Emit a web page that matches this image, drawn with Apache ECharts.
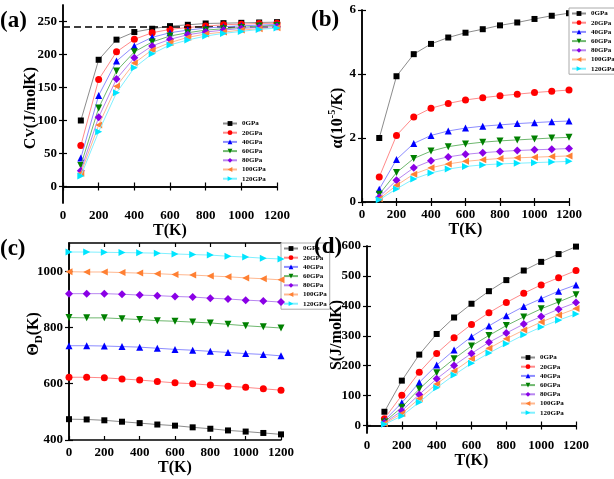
<!DOCTYPE html>
<html><head><meta charset="utf-8">
<script src="https://cdn.jsdelivr.net/npm/echarts@6/dist/echarts.min.js"></script>
<style>html,body{margin:0;padding:0;background:#fff}#c{width:614px;height:479px}</style>
</head><body><div id="c"></div>
<script>
const temps = [100,200,300,400,500,600,700,800,900,1000,1100,1200];
const tempsTheta = [0,100,200,300,400,500,600,700,800,900,1000,1100,1200];
const pressures = ['0GPa','20GPa','40GPa','60GPa','80GPa','100GPa','120GPa'];
const xTicks = [0,200,400,600,800,1000,1200];
const cvTicks = [0,50,100,150,200,250];
const alphaTicks = [0,2,4,6];
const thetaTicks = [400,600,800,1000];
const sTicks = [0,100,200,300,400,500,600];
const dulongPetit = 242;

const cv0   = [100,192,222.5,234,239,243,245,247,247.5,248,248.5,249];
const cv20  = [62,162,204,223,233,238,241,243,245,246,247,247.5];
const cv40  = [43,138,190,213,226,233,237,240,242,243.5,244.5,245.5];
const cv60  = [32,119,175,204,219,228,233,237,239,241,243,244];
const cv80  = [24,105,163,195,213,223,230,234,237,239.5,241,242.5];
const cv100 = [20,93,152,187,207,218,226,231,234,237,239,240.5];
const cv120 = [16,83,142,180,201,214.5,222,228,232,235,238,240];
const al0   = [2.0,3.93,4.62,4.94,5.14,5.29,5.40,5.52,5.61,5.72,5.82,5.90];
const al20  = [0.78,2.08,2.66,2.93,3.08,3.19,3.26,3.32,3.37,3.42,3.46,3.50];
const al40  = [0.40,1.33,1.83,2.08,2.22,2.31,2.37,2.41,2.45,2.48,2.51,2.53];
const al60  = [0.24,0.92,1.36,1.59,1.73,1.81,1.87,1.91,1.94,1.97,2.00,2.02];
const al80  = [0.15,0.68,1.07,1.29,1.41,1.49,1.54,1.58,1.61,1.63,1.65,1.67];
const al100 = [0.10,0.52,0.87,1.07,1.19,1.27,1.32,1.36,1.38,1.40,1.42,1.44];
const al120 = [0.07,0.41,0.72,0.91,1.03,1.11,1.16,1.19,1.21,1.23,1.25,1.27];
const th0   = [474,473,470,465,460,455,451,445,440,434,430,425,420];
const th20  = [623,623,621,617,613,608,603,600,595,591,587,582,577];
const th40  = [735,735,734,732,730,726,722,719,715,711,707,704,699];
const th60  = [835,834,834,831,828,824,822,819,816,811,806,802,798];
const th80  = [920,920,920,918,915,913,910,908,904,901,897,894,890];
const th100 = [998,997,997,995,993,991,988,986,983,980,976,973,969];
const th120 = [1068,1068,1067,1066,1065,1064,1061,1059,1057,1053,1050,1046,1043];
const s0   = [46,150,237,306,361,407,449,486,518,547,573,598];
const s20  = [23,101,178,241,293,338,377,411,442,470,494,518];
const s40  = [17,76,144,202,252,297,333,367,398,424,449,470];
const s60  = [12,61,122,176,223,266,301,334,363,390,413,437];
const s80  = [9,49,104,156,201,241,278,309,339,364,389,411];
const s100 = [7,40,90,139,182,223,258,290,319,346,369,391];
const s120 = [4,32,78,126,169,208,242,273,303,329,352,373];

const markerColors = ['#000000','#ff0000','#0000ff','#008000','#8a00e6','#ff8033','#00e5ff'];
const lineColors = ['#8c8c8c','#ff8a8a','#8c8cff','#6fb86f','#b886f0','#ffb890','#80f0ff'];
const symbols = ['rect','circle','triangle','triangle','diamond','triangle','triangle'];
const rotations = [0,0,0,180,0,90,-90];
const symSizes = [6,7,7,7,8,7,7];

const FONT = 'Liberation Serif, Times New Roman, serif';

const grids = [
  {left:63, top:5, width:214, height:198},
  {left:362, top:10, width:207, height:192},
  {left:69, top:243, width:212, height:197},
  {left:367, top:246, width:209, height:187}
];

const xAxes = [], yAxes = [];
function addAxes(gi, ymin, ymax, yticks) {
  const lineS = {show:true, lineStyle:{color:'#000', width:1.5}};
  xAxes.push({gridIndex:gi, type:'value', position:'bottom', min:0, max:1200,
    axisLine:lineS, splitLine:{show:false},
    axisTick:{inside:true, length:4, lineStyle:{width:1.2}, customValues:xTicks},
    axisLabel:{customValues:xTicks, formatter:v=>String(v), color:'#000', fontFamily:FONT, fontWeight:'bold', fontSize:13, margin:6},
    name:'T(K)', nameLocation:'middle', nameGap:17,
    nameTextStyle:{color:'#000', fontFamily:FONT, fontWeight:'bold', fontSize:16}});
  xAxes.push({gridIndex:gi, type:'value', position:'top', min:0, max:1200,
    axisLine:lineS, splitLine:{show:false},
    axisTick:{inside:true, length:4, lineStyle:{width:1.2}, customValues:xTicks},
    axisLabel:{show:false}});
  yAxes.push({gridIndex:gi, type:'value', position:'left', min:ymin, max:ymax,
    axisLine:lineS, splitLine:{show:false},
    axisTick:{inside:true, length:4, lineStyle:{width:1.2}, customValues:yticks},
    axisLabel:{customValues:yticks, formatter:v=>String(v), color:'#000', fontFamily:FONT, fontWeight:'bold', fontSize:13, margin:6}});
  yAxes.push({gridIndex:gi, type:'value', position:'right', min:ymin, max:ymax,
    axisLine:lineS, splitLine:{show:false},
    axisTick:{inside:true, length:4, lineStyle:{width:1.2}, customValues:yticks},
    axisLabel:{show:false}});
}
addAxes(0, -25, 275, cvTicks);
addAxes(1, 0, 6, alphaTicks);
addAxes(2, 400, 1100, thetaTicks);
addAxes(3, -25, 600, sTicks);

const panels = [
  {xs:temps, data:[cv0,cv20,cv40,cv60,cv80,cv100,cv120]},
  {xs:temps, data:[al0,al20,al40,al60,al80,al100,al120]},
  {xs:tempsTheta, data:[th0,th20,th40,th60,th80,th100,th120]},
  {xs:temps, data:[s0,s20,s40,s60,s80,s100,s120]}
];

const series = [];
panels.forEach((p, gi) => {
  p.data.forEach((vals, k) => {
    const s = {
      type:'line', name:pressures[k], xAxisIndex:gi*2, yAxisIndex:gi*2,
      data: p.xs.map((x,i)=>[x, vals[i]]),
      symbol:symbols[k], symbolRotate:rotations[k], symbolSize:symSizes[k],
      itemStyle:{color:markerColors[k]}, lineStyle:{color:lineColors[k], width:1},
      animation:false, z:3+k
    };
    if (gi===0 && k===0) {
      s.markLine = {silent:true, symbol:'none', label:{show:false},
        lineStyle:{color:'#000', type:[7,4], width:1.5},
        data:[{yAxis:dulongPetit}]};
    }
    series.push(s);
  });
});

const legTxt = {fontFamily:FONT, fontWeight:'bold', fontSize:7, color:'#000'};
function leg(id, left, top, border) {
  return {id:id, data:pressures, orient:'vertical', left:left, top:top, itemGap:2.2,
    itemWidth:14, itemHeight:6, textStyle:legTxt, selectedMode:false,
    borderColor: border ? '#aaa' : 'transparent', borderWidth: border ? 1 : 0,
    backgroundColor: border ? '#fff' : 'transparent', padding:[2,3,2,2]};
}

const nameRich = {
  a:{fontFamily:FONT, fontWeight:'bold', fontSize:16, fill:'#000', lineHeight:22, verticalAlign:'middle'},
  sm:{fontFamily:FONT, fontWeight:'bold', fontSize:13, fill:'#000', lineHeight:22, verticalAlign:'middle'},
  sup:{fontFamily:FONT, fontWeight:'bold', fontSize:10, fill:'#000', lineHeight:22, verticalAlign:'top'},
  sub:{fontFamily:FONT, fontWeight:'bold', fontSize:11, fill:'#000', lineHeight:22, verticalAlign:'bottom'}
};
function yName(text, x, y) {
  return {type:'text', x:x, y:y, rotation:Math.PI/2, z:10,
    style:{text:text, align:'center', verticalAlign:'middle', rich:nameRich, font:'bold 16px '+FONT, fill:'#000'}};
}
function panelLabel(text, left, top) {
  return {type:'text', left:left, top:top, z:20, style:{text:text, font:'bold 23px '+FONT, fill:'#000'}};
}

const chart = echarts.init(document.getElementById('c'), null, {renderer:'canvas'});
chart.setOption({
  backgroundColor:'#fff',
  animation:false,
  grid:grids,
  xAxis:xAxes,
  yAxis:yAxes,
  legend:[leg('la',220,118,false), leg('lb',569,8,true), leg('lc',281,243,true), leg('ld',518,352,false)],
  series:series,
  graphic:[
    panelLabel('(a)', 0, 10),
    panelLabel('(b)', 311, 9),
    panelLabel('(c)', 0, 238),
    panelLabel('(d)', 314, 236),
    yName('{a|C}{sm|V}{a|(J/molK)}', 31, 108),
    yName('{a|α(10}{sup|-5}{a|/K)}', 338, 118),
    yName('{a|Θ}{sub|D}{a|(K)}', 34, 334),
    yName('{a|S(J/molK)}', 337, 335)
  ]
});
</script></body></html>
